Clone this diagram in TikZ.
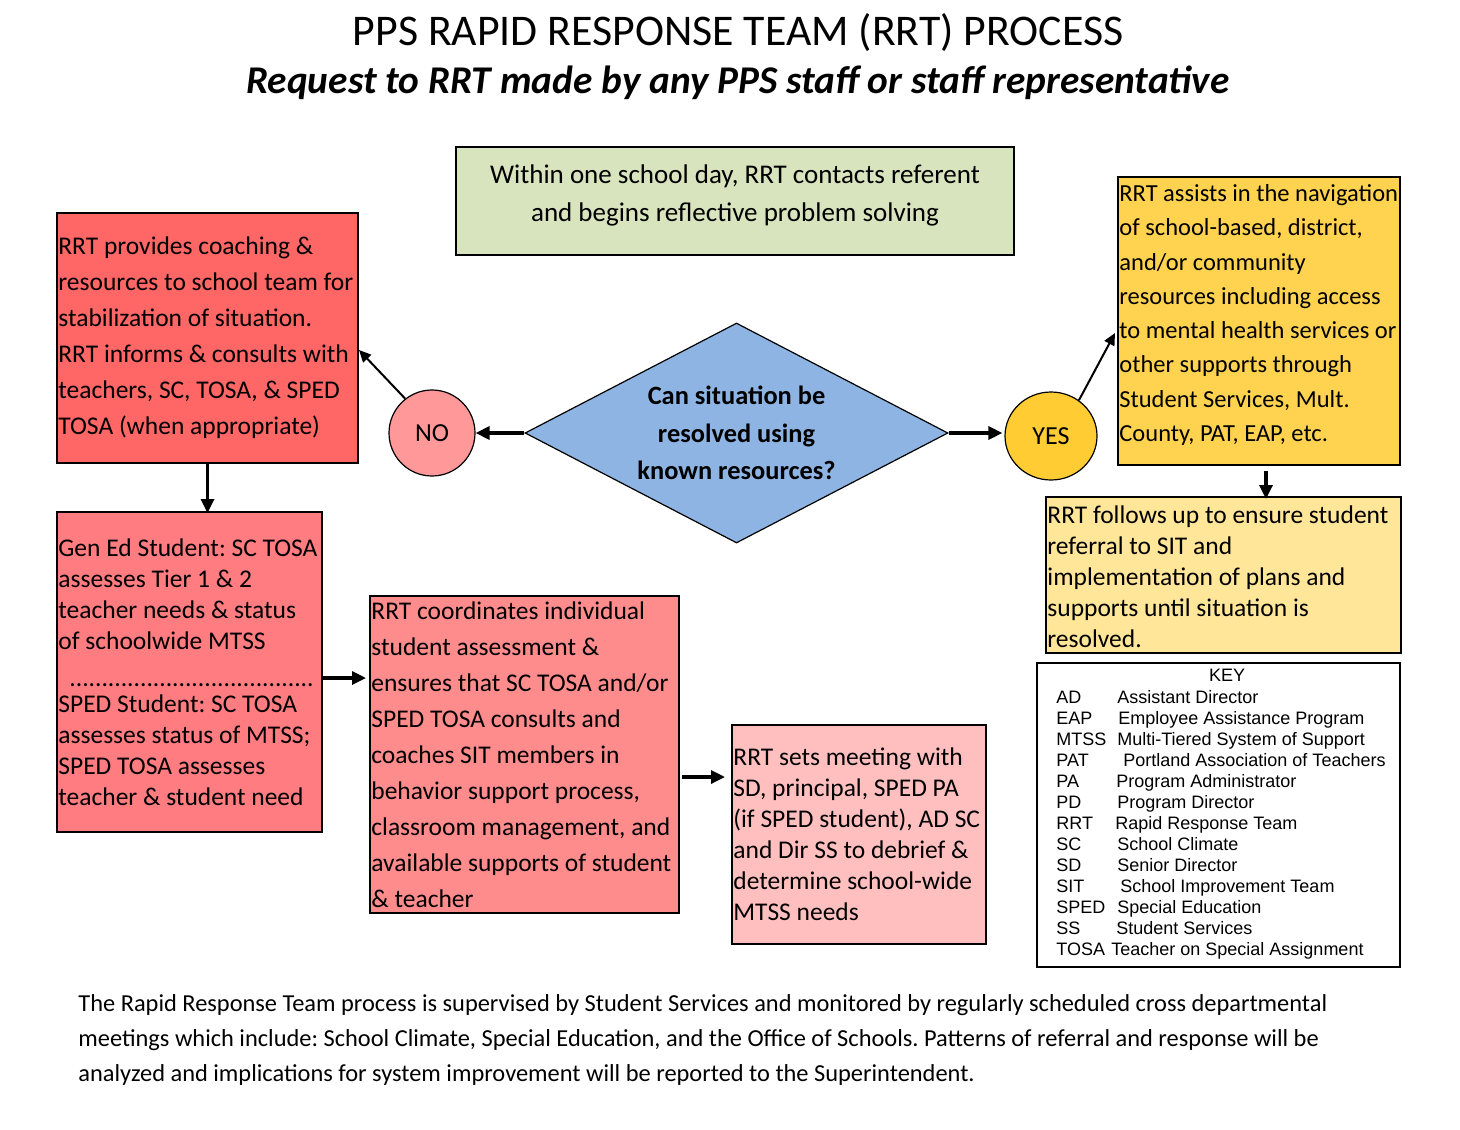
\documentclass[tikz,border=0pt]{standalone}
\usepackage{fontspec}
\setmainfont{Carlito}
\newfontfamily\keyfont{Liberation Sans}
\usetikzlibrary{arrows.meta,shapes.geometric,calc}
\definecolor{leftred}{HTML}{FF6666}
\definecolor{genred}{HTML}{FF7C80}
\definecolor{midred}{HTML}{FF8C8C}
\definecolor{pinkbox}{HTML}{FFBFBF}
\definecolor{nofill}{HTML}{FF9999}
\definecolor{diafill}{HTML}{8EB4E3}
\definecolor{yesfill}{HTML}{FFCC33}
\definecolor{yelbox}{HTML}{FFD34F}
\definecolor{lyelbox}{HTML}{FFE699}
\definecolor{greenbox}{HTML}{D7E4BD}
\newcommand\keyrow[3]{\makebox[#1][l]{#2}#3}
\frenchspacing
\begin{document}
\frenchspacing
\begin{tikzpicture}[x=0.5pt,y=-0.5pt,
  box/.style={draw=black,line width=1pt,inner sep=0pt},
  txt/.style={inner sep=0pt,align=left,anchor=west},
  body/.style={font=\frenchspacing\fontsize{12.75}{#1}\selectfont},
  arr/.style={line width=1.6pt,-{Triangle[length=7pt,width=6.5pt]}},
  thinarr/.style={line width=1pt,-{Triangle[length=6pt,width=5.5pt]}}]
\useasboundingbox (0,0) rectangle (1460,1129);
\fill[white] (0,0) rectangle (1460,1129);

% titles
\node[inner sep=0pt] (title) at (738,33) {\fontsize{21.9}{26}\selectfont PPS RAPID RESPONSE TEAM (RRT) PROCESS};
\node[inner sep=0pt] (subtitle) at (738,83) {\fontsize{19.65}{23}\selectfont\bfseries\itshape Request to RRT made by any PPS staff or staff representative};

% green box
\node[box,fill=greenbox,minimum width=279pt,minimum height=54pt] (gbx) at (735,201) {};
\node[inner sep=0pt,align=center,font=\fontsize{13.5}{19}\selectfont] (gbxt) at (735,195) {Within one school day, RRT contacts referent\\and begins reflective problem solving};

% left red box
\node[box,fill=leftred,minimum width=150.5pt,minimum height=125pt] (lbox) at (207.5,338) {};
\node[txt,body=18] (lboxt) at ([xshift=1pt]lbox.west) {RRT provides coaching \&\\resources to school team for\\stabilization of situation.\\RRT informs \& consults with\\teachers, SC, TOSA, \& SPED\\TOSA (when appropriate)};

% decision diamond
\node[diamond,draw=black,line width=0.6pt,fill=diafill,inner sep=0pt,minimum width=211.5pt,minimum height=110pt] (q) at (736.5,433) {};
\node[inner sep=0pt,align=center,font=\fontsize{13.2}{18.75}\selectfont\bfseries] (qt) at (q.center) {Can situation be\\resolved using\\known resources?};

% NO / YES
\node[circle,draw=black,line width=0.6pt,fill=nofill,minimum size=43pt,inner sep=0pt,font=\fontsize{13}{15}\selectfont] (no) at (432,433) {NO};
\node[ellipse,draw=black,line width=0.6pt,fill=yesfill,minimum width=46pt,minimum height=44pt,inner sep=0pt,font=\fontsize{13}{15}\selectfont] (yes) at (1051,436) {YES};

% yellow box
\node[box,fill=yelbox,minimum width=141pt,minimum height=144pt] (ybox) at (1259,321) {};
\node[txt,font=\frenchspacing\fontsize{12.25}{17.15}\selectfont] (yboxt) at ([xshift=1pt,yshift=3pt]ybox.west) {RRT assists in the navigation\\of school-based, district,\\and/or community\\resources including access\\to mental health services or\\other supports through\\Student Services, Mult.\\County, PAT, EAP, etc.};

% light yellow box
\node[box,fill=lyelbox,minimum width=177.5pt,minimum height=78pt] (lybox) at (1223.5,575) {};
\node[txt,body=15.5] (lyboxt) at ([xshift=1pt,yshift=-0.75pt]lybox.west) {RRT follows up to ensure student\\referral to SIT and\\implementation of plans and\\supports until situation is\\resolved.};

% gen ed box
\node[box,fill=genred,minimum width=132.5pt,minimum height=160pt] (gen) at (189.5,672) {};
\node[txt,body=15.5] (gent) at ([xshift=1pt]gen.west) {Gen Ed Student: SC TOSA\\assesses Tier 1 \& 2\\teacher needs \& status\\of schoolwide MTSS\\[3pt]\hspace*{5.5pt}......................................\\[-2.5pt]SPED Student: SC TOSA\\assesses status of MTSS;\\SPED TOSA assesses\\teacher \& student need};

% middle box
\node[box,fill=midred,minimum width=154.5pt,minimum height=158.5pt] (mbox) at (524.5,754.5) {};
\node[txt,body=18] (mboxt) at ([xshift=1pt]mbox.west) {RRT coordinates individual\\student assessment \&\\ensures that SC TOSA and/or\\SPED TOSA consults and\\coaches SIT members in\\behavior support process,\\classroom management, and\\available supports of student\\\& teacher};

% pink box
\node[box,fill=pinkbox,minimum width=127pt,minimum height=109.5pt] (pbox) at (859,834.5) {};
\node[txt,body=15.5] (pboxt) at ([xshift=1pt]pbox.west) {RRT sets meeting with\\SD, principal, SPED PA\\(if SPED student), AD SC\\and Dir SS to debrief \&\\determine school-wide\\MTSS needs};

% key
\node[box,fill=white,minimum width=181.5pt,minimum height=152pt] (key) at (1218.5,815) {};
\node[inner sep=0pt,font=\keyfont\fontsize{9}{10.5}\selectfont] (keyt) at (1227,675) {KEY};
\node[txt,font=\keyfont\fontsize{9}{10.5}\selectfont] (keyrows) at (1056,824.5) {%
\keyrow{30.5pt}{AD}{Assistant Director}\\
\keyrow{31pt}{EAP}{Employee Assistance Program}\\
\keyrow{30.5pt}{MTSS}{Multi-Tiered System of Support}\\
\keyrow{33.5pt}{PAT}{Portland Association of Teachers}\\
\keyrow{30pt}{PA}{Program Administrator}\\
\keyrow{30.5pt}{PD}{Program Director}\\
\keyrow{29.5pt}{RRT}{Rapid Response Team}\\
\keyrow{30.5pt}{SC}{School Climate}\\
\keyrow{30.5pt}{SD}{Senior Director}\\
\keyrow{32pt}{SIT}{School Improvement Team}\\
\keyrow{30.5pt}{SPED}{Special Education}\\
\keyrow{30pt}{SS}{Student Services}\\
\keyrow{27.5pt}{TOSA}{Teacher on Special Assignment}};

% bottom paragraph
\node[txt,font=\frenchspacing\fontsize{12.2}{17.5}\selectfont] (para) at (78,1040) {The Rapid Response Team process is supervised by Student Services and monitored by regularly scheduled cross departmental\\meetings which include: School Climate, Special Education, and the Office of Schools. Patterns of referral and response will be\\analyzed and implications for system improvement will be reported to the Superintendent.};

% connectors
\draw[arr] (q.west) -- (no.east);
\draw[arr] (q.east) -- ([xshift=-1pt]q.east -| yes.west);
\path ([yshift=-6pt]lbox.east) coordinate (lin);
\draw[thinarr] (no.128) -- (lin);
\path ([xshift=-1pt,yshift=-6pt]ybox.west) coordinate (yin);
\draw[thinarr] (yes.52) -- (yin);
\path ([xshift=3.5pt,yshift=-2.5pt]ybox.south) coordinate (yout);
\draw[arr] (yout) -- ([yshift=-1.5pt]yout |- lybox.north);
\draw[arr] (lbox.south) -- ([yshift=-1pt]lbox.south |- gen.north);
\path ([yshift=-3pt]gen.east) coordinate (gout);
\draw[arr] (gout) -- ([xshift=-1.5pt]gout -| mbox.west);
\path ([xshift=1pt,yshift=-11.25pt]mbox.east) coordinate (mout);
\draw[arr] (mout) -- ([xshift=-3pt]mout -| pbox.west);
\end{tikzpicture}
\end{document}
